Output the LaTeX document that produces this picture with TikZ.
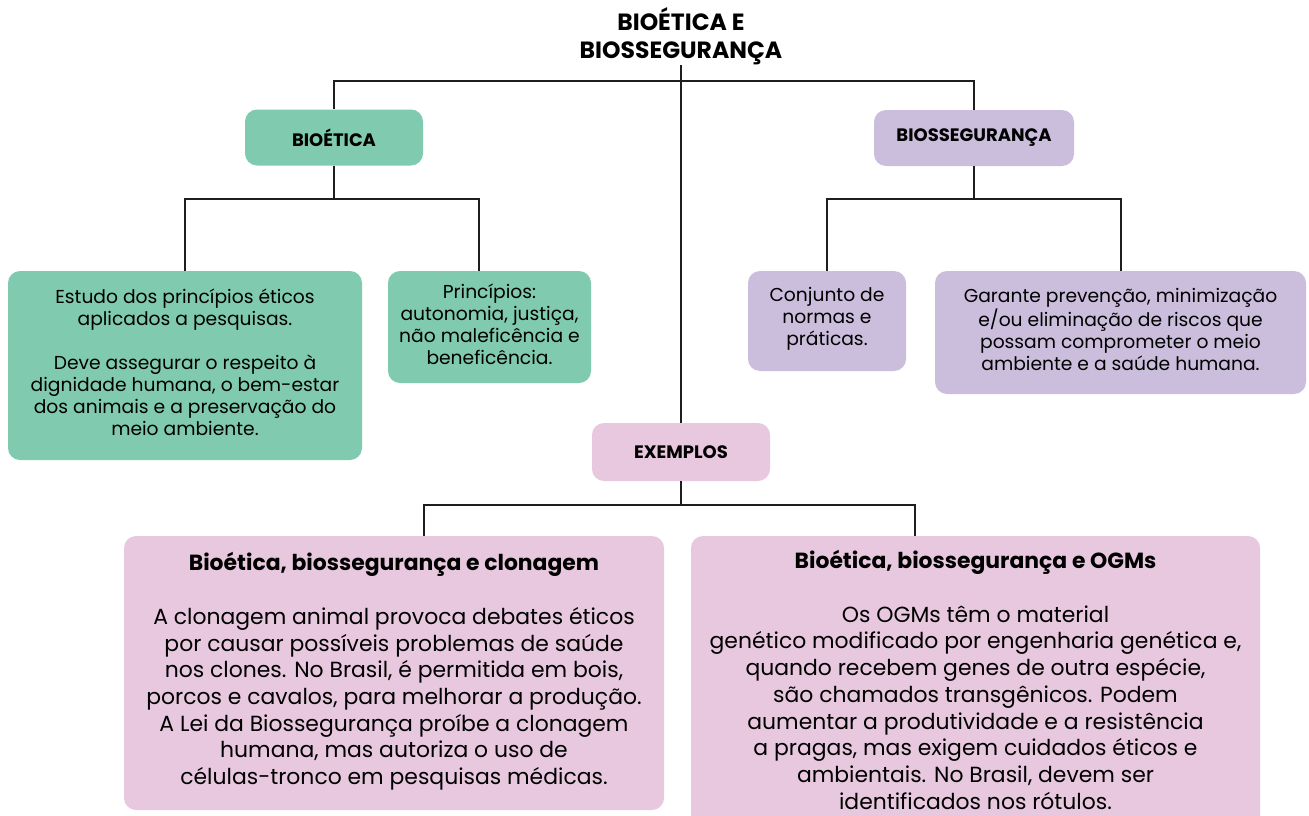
\documentclass[tikz,border=0pt]{standalone}
\usepackage{fontspec}
\setmainfont{Poppins}
\definecolor{gr}{HTML}{80CBAF}
\definecolor{lv}{HTML}{CBBEDD}
\definecolor{pk}{HTML}{E8C8DF}
\definecolor{ln}{HTML}{1E1E1E}
\begin{document}
\begin{tikzpicture}[x=1pt,y=-1pt,
  box/.style={rounded corners=12pt,inner sep=0pt,align=center,text=black},
  head/.style={box,font=\bfseries\fontsize{18}{22}\selectfont},
  small/.style={box,font=\fontsize{18.7}{22}\selectfont},
  big/.style={box,font=\fontsize{21.9}{26.7}\selectfont},
  conn/.style={draw=ln,line width=1.7pt}]
\clip (0,0) rectangle (1309,816);
\fill[white] (0,0) rectangle (1309,816);

\node[align=center,inner sep=0pt,font=\bfseries\fontsize{23.5}{28}\selectfont] (title) at (681,36) {BIOÉTICA E\\BIOSSEGURANÇA};

\node[head,fill=gr,minimum width=178pt,minimum height=56pt] (bio) at (334,137.5) {BIOÉTICA};
\node[head,fill=lv,minimum width=200pt,minimum height=56pt] (bios) at (974,138) {BIOSSEGURANÇA};

\node[box,fill=gr,minimum width=354pt,minimum height=189pt] (g1) at (185,365.5) {};
\node[small] (g1t) at ([yshift=3pt]g1.center)
 {Estudo dos princípios éticos\\aplicados a pesquisas.\\[22pt]Deve assegurar o respeito à\\dignidade humana, o bem-estar\\dos animais e a preservação do\\meio ambiente.};
\node[box,fill=gr,minimum width=203pt,minimum height=112pt] (g2) at (489.5,327) {};
\node[small] (g2t) at ([yshift=3pt]g2.center)
 {Princípios:\\autonomia, justiça,\\não maleficência e\\beneficência.};

\node[box,fill=lv,minimum width=158pt,minimum height=100pt] (l1) at (827,321) {};
\node[small] (l1t) at ([yshift=2.5pt]l1.center)
 {Conjunto de\\normas e\\práticas.};
\node[box,fill=lv,minimum width=371pt,minimum height=123pt] (l2) at (1120.5,332.5) {};
\node[small] (l2t) at ([yshift=3pt]l2.center)
 {Garante prevenção, minimização\\e/ou eliminação de riscos que\\possam comprometer o meio\\ambiente e a saúde humana.};

\node[head,fill=pk,minimum width=178pt,minimum height=58pt] (ex) at (681,452) {EXEMPLOS};

\node[box,fill=pk,minimum width=540pt,minimum height=274pt] (p1) at (394,673) {};
\node[big] (p1t) at ([yshift=1.5pt]p1.center)
 {\textbf{Bioética, biossegurança e clonagem}\\[26.7pt]A clonagem animal provoca debates éticos\\por causar possíveis problemas de saúde\\nos clones. No Brasil, é permitida em bois,\\porcos e cavalos, para melhorar a produção.\\A Lei da Biossegurança proíbe a clonagem\\humana, mas autoriza o uso de\\células-tronco em pesquisas médicas.};
\node[box,fill=pk,minimum width=569pt,minimum height=292pt] (p2) at (975.5,682) {};
\node[big] (p2t) at ([yshift=2pt]p2.center)
 {\textbf{Bioética, biossegurança e OGMs}\\[26.7pt]Os OGMs têm o material\\genético modificado por engenharia genética e,\\quando recebem genes de outra espécie,\\são chamados transgênicos. Podem\\aumentar a produtividade e a resistência\\a pragas, mas exigem cuidados éticos e\\ambientais. No Brasil, devem ser\\identificados nos rótulos.};

% connectors
\draw[conn] (ex.north |- 0,65) -- (ex.north);
\draw[conn] (bio.north) -- ++(0,-28.5) -| (bios.north);
\draw[conn] (bio.south) -- ++(0,33) -| (g1.north);
\draw[conn] (bio.south) -- ++(0,33) -| ([xshift=-10.5pt]g2.north);
\draw[conn] (bios.south) -- ++(0,33) -| (l1.north);
\draw[conn] (bios.south) -- ++(0,33) -| ([xshift=0.5pt]l2.north);
\draw[conn] (ex.south) -- ++(0,24) -| ([xshift=30pt]p1.north);
\draw[conn] (ex.south) -- ++(0,24) -| ([xshift=-60.5pt]p2.north);
\end{tikzpicture}
\end{document}
